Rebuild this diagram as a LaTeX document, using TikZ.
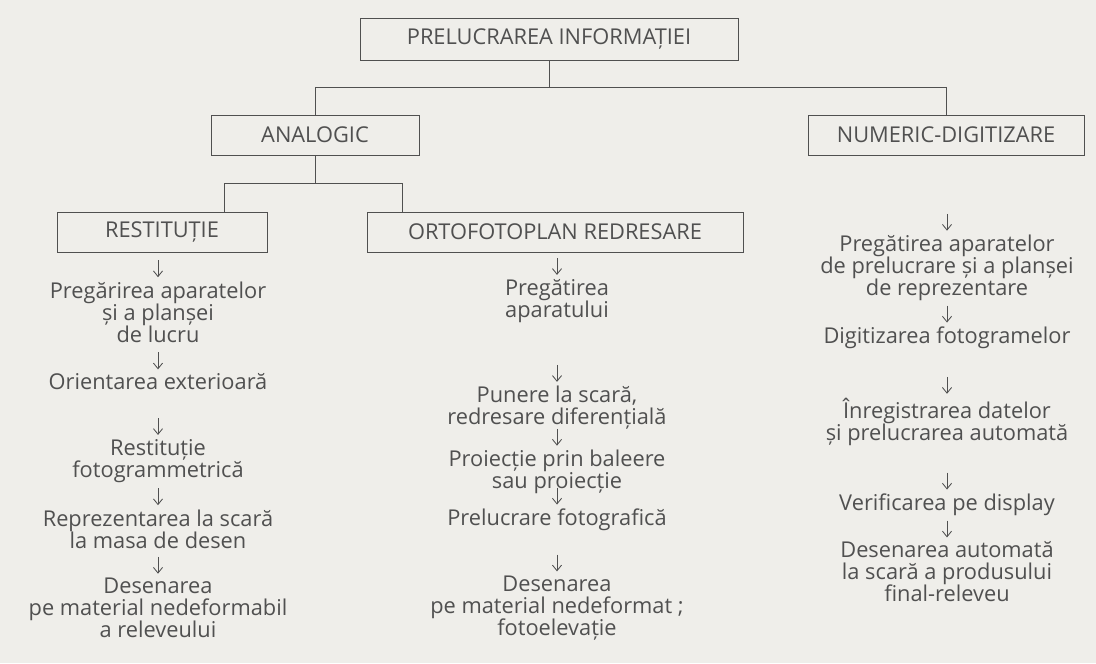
\documentclass[tikz,border=0pt]{standalone}
\usepackage{fontspec}
\setmainfont{Open Sans}
\usetikzlibrary{arrows.meta,positioning}
\definecolor{paper}{RGB}{239,238,234}
\definecolor{ink}{RGB}{80,80,80}

\begin{document}
\begin{tikzpicture}[x=0.025cm,y=-0.025cm,
    every node/.style={font=\fontsize{15.5}{15.6}\selectfont, text=ink},
    box/.style={draw=ink, line width=0.6pt, minimum height=1cm, inner sep=0pt},
    stagetext/.style={align=center, inner sep=1pt},
    link/.style={draw=ink, line width=0.6pt},
    arr/.style={draw=ink, line width=0.6pt, -{Straight Barb[length=4pt,width=6.5pt]}}]
  \fill[paper] (0,0) rectangle (1096,663);

  % boxes
  \node[box, minimum width=9.45cm, minimum height=1.05cm] (info) at (549,39) {PRELUCRAREA INFORMAȚIEI};
  \node[box, minimum width=5.2cm] (analog) at (315,135) {ANALOGIC};
  \node[box, minimum width=6.9cm] (numeric) at (946,135) {NUMERIC-DIGITIZARE};
  \node[box, minimum width=5.25cm] (restit) at (162,232) {RESTITUȚIE};
  \node[box, minimum width=9.4cm] (orto) at (555,232) {ORTOFOTOPLAN REDRESARE};

  % tree lines
  \coordinate (busL) at (315,87);
  \coordinate (busR) at (946,87);
  \coordinate (subL) at (224,183);
  \coordinate (subR) at (402,183);
  \draw[link] (info.south) -- (info.south |- busL);
  \draw[link] (busL) -- (busR);
  \draw[link] (busL) -- (analog.north);
  \draw[link] (busR) -- (numeric.north);
  \draw[link] (analog.south) -- (analog.south |- subL);
  \draw[link] (subL) -- (subR);
  \draw[link] (subL) -- (subL |- restit.north);
  \draw[link] (subR) -- (subR |- orto.north);

  % restitutie
  \node[stagetext] (r1) at (158,312) {Pregărirea aparatelor\\și a planșei\\de lucru};
  \node[stagetext] (r2) at (158,382) {Orientarea exterioară};
  \node[stagetext] (r3) at (158,461) {Restituție\\fotogrammetrică};
  \node[stagetext] (r4) at (158,529) {Reprezentarea la scară\\la masa de desen};
  \node[stagetext] (r5) at (158,608) {Desenarea\\pe material nedeformabil\\a releveului};

  % ortofotoplan
  \node[stagetext] (o1) at (557,301) {Pregătirea\\aparatului};
  \node[stagetext] (o2) at (557,408) {Punere la scară,\\redresare diferențială};
  \node[stagetext] (o3) at (557,472) {Proiecție prin baleere\\sau proiecție};
  \node[stagetext] (o4) at (557,520) {Prelucrare fotografică};
  \node[stagetext] (o5) at (557,608) {Desenarea\\pe material nedeformat~;\\fotoelevație};

  % numeric
  \node[stagetext] (n1) at (947,268) {Pregătirea aparatelor\\de prelucrare și a planșei\\de reprezentare};
  \node[stagetext] (n2) at (947,338) {Digitizarea fotogramelor};
  \node[stagetext] (n3) at (947,422) {Înregistrarea datelor\\și prelucrarea automată};
  \node[stagetext] (n4) at (947,505) {Verificarea pe display};
  \node[stagetext] (n5) at (947,572) {Desenarea automată\\la scară a produsului\\final-releveu};

  \foreach \n in {r1,r2,r3,r4,r5,o1,o2,o3,o4,o5,n1,n2,n3,n4,n5}
    \draw[arr] ([yshift=14pt]\n.north) -- ([yshift=2pt]\n.north);
\end{tikzpicture}
\end{document}
